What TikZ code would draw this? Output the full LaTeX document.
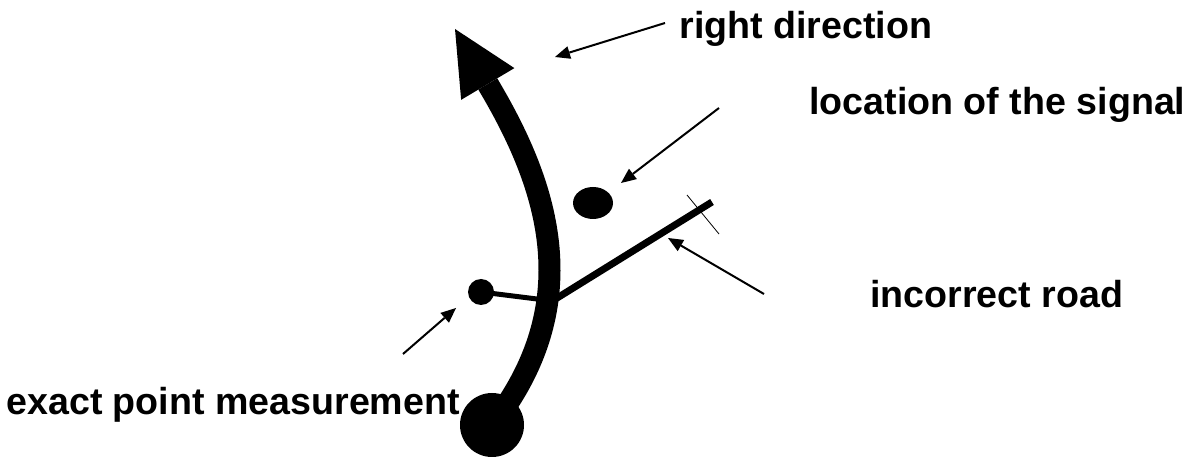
\documentclass[tikz,border=0pt]{standalone}
\usepackage{fontspec}
\setmainfont{Liberation Sans}
\usetikzlibrary{arrows.meta,shapes.geometric}

\begin{document}
\begin{tikzpicture}[
  x=0.5pt, y=-0.5pt,
  label/.style={anchor=base west, inner sep=0pt,
                font=\bfseries\fontsize{18.8}{22}\selectfont},
  blob/.style={circle, fill=black, inner sep=0pt},
  route/.style={line width=11pt,
                -{Triangle[length=32pt, width=31pt, line width=0pt]}},
  road/.style={line width=3.5pt},
  link/.style={line width=2.5pt},
  pointer/.style={line width=1pt,
                  -{Triangle[length=7.5pt, width=6.5pt, line width=0pt]}}
]
  \useasboundingbox (0,0) rectangle (1189,459);

  % objects
  \node[blob, minimum size=32pt] (start) at (492,425) {};
  \coordinate (tip) at (455,29);
  \node[blob, minimum size=13pt] (point) at (481,292) {};
  \node[ellipse, fill=black, inner sep=0pt, minimum width=20pt,
        minimum height=16pt] (signal) at (593,203) {};
  \coordinate (roadS) at (549,303);
  \coordinate (roadE) at (712,202);
  \coordinate (tickA) at (687,195);
  \coordinate (tickB) at (719,234);
  \coordinate (linkE) at (545,300);

  \draw[road] (roadS) -- (roadE);
  \draw[thin] (tickA) -- (tickB);
  \draw[link] (point.center) -- (linkE);
  \draw[route] (start.center) .. controls (590,300) and (545,180) .. (tip);

  % labels
  \node[label] (dirlbl) at (679,39) {right direction};
  \node[label] (siglbl) at (809,115) {location of the signal};
  \node[label] (roadlbl) at (870,308) {incorrect road};
  \node[label] (ptlbl) at (6,415) {exact point measurement};

  \coordinate (dirA) at (665,23);
  \coordinate (dirB) at (555,57);
  \coordinate (sigA) at (719,108);
  \coordinate (sigB) at (621,183);
  \coordinate (roadA) at (764,294);
  \coordinate (roadB) at (668,238);
  \coordinate (ptA) at (403,354);
  \coordinate (ptB) at (456,308);

  \draw[pointer] (dirA) -- (dirB);
  \draw[pointer] (sigA) -- (sigB);
  \draw[pointer] (roadA) -- (roadB);
  \draw[pointer] (ptA) -- (ptB);
\end{tikzpicture}
\end{document}
